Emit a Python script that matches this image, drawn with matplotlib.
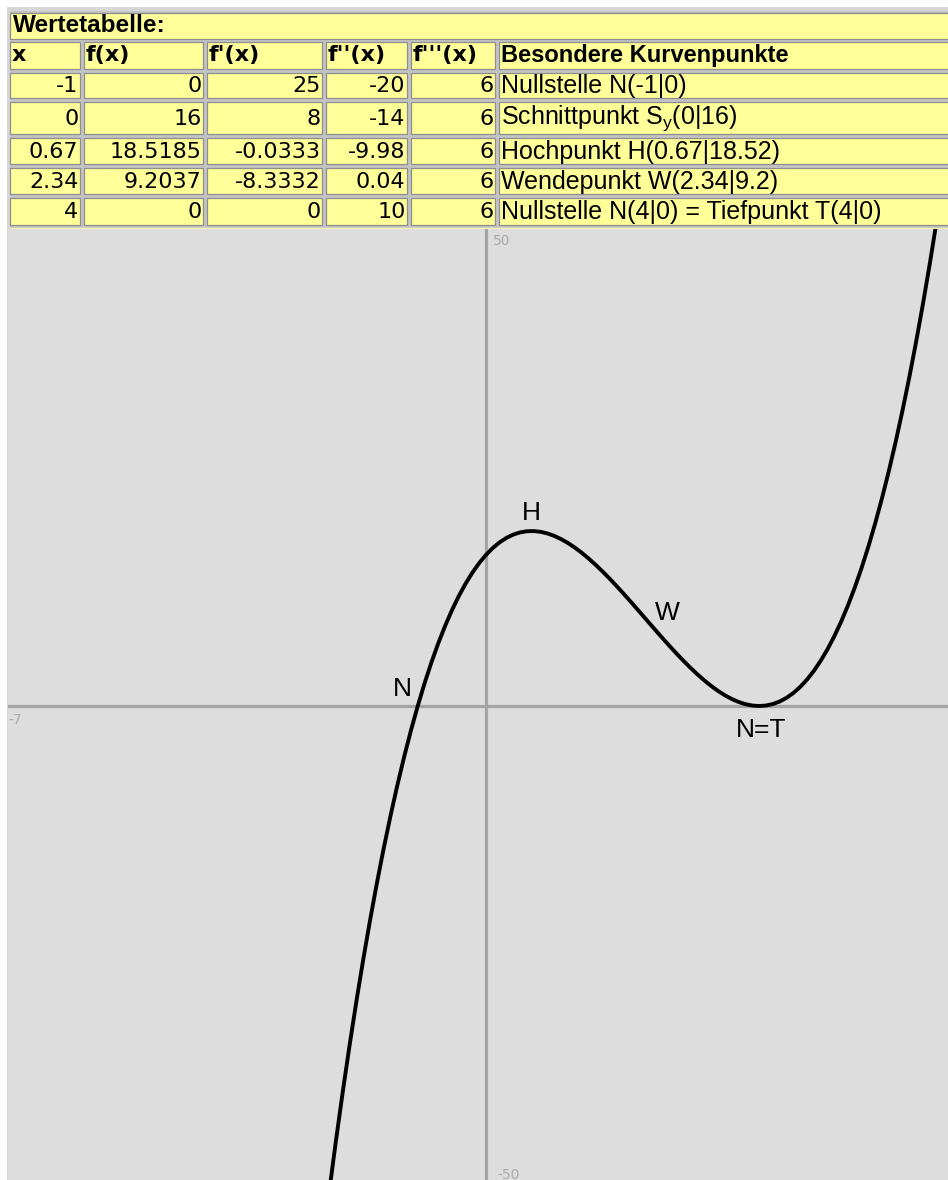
import matplotlib
matplotlib.use("Agg")
import matplotlib.pyplot as plt
from matplotlib.patches import Rectangle

# table contents
title = "Wertetabelle:"
col_headers = ["x", "f(x)", "f'(x)", "f''(x)", "f'''(x)", "Besondere Kurvenpunkte"]
x_vals = ["-1", "0", "0.67", "2.34", "4"]
fx_vals = ["0", "16", "18.5185", "9.2037", "0"]
f1_vals = ["25", "8", "-0.0333", "-8.3332", "0"]
f2_vals = ["-20", "-14", "-9.98", "0.04", "10"]
f3_vals = ["6", "6", "6", "6", "6"]
point_texts = ["Nullstelle N(-1|0)",
               r"Schnittpunkt S$_\mathregular{y}$(0|16)",
               "Hochpunkt H(0.67|18.52)",
               "Wendepunkt W(2.34|9.2)",
               "Nullstelle N(4|0) = Tiefpunkt T(4|0)"]

# curve points
curve_x = [-2.4, -2.3, -2.2, -2.1, -2.0, -1.9, -1.8, -1.7, -1.6, -1.5, -1.4, -1.3,
           -1.2, -1.1, -1.0, -0.9, -0.8, -0.7, -0.6, -0.5, -0.4, -0.3, -0.2, -0.1,
           0.0, 0.1, 0.2, 0.3, 0.4, 0.5, 0.6, 0.7, 0.8, 0.9, 1.0, 1.1,
           1.2, 1.3, 1.4, 1.5, 1.6, 1.7, 1.8, 1.9, 2.0, 2.1, 2.2, 2.3,
           2.4, 2.5, 2.6, 2.7, 2.8, 2.9, 3.0, 3.1, 3.2, 3.3, 3.4, 3.5,
           3.6, 3.7, 3.8, 3.9, 4.0, 4.1, 4.2, 4.3, 4.4, 4.5, 4.6, 4.7,
           4.8, 4.9, 5.0, 5.1, 5.2, 5.3, 5.4, 5.5, 5.6, 5.7, 5.8, 5.9,
           6.0, 6.1, 6.2, 6.3, 6.4, 6.5, 6.6, 6.7, 6.8]
curve_y = [-57.344, -51.597, -46.128, -40.931, -36.0, -31.329, -26.912, -22.743,
           -18.816, -15.125, -11.664, -8.427, -5.408, -2.601, 0.0, 2.401,
           4.608, 6.627, 8.464, 10.125, 11.616, 12.943, 14.112, 15.129,
           16.0, 16.731, 17.328, 17.797, 18.144, 18.375, 18.496, 18.513,
           18.432, 18.259, 18.0, 17.661, 17.248, 16.767, 16.224, 15.625,
           14.976, 14.283, 13.552, 12.789, 12.0, 11.191, 10.368, 9.537,
           8.704, 7.875, 7.056, 6.253, 5.472, 4.719, 4.0, 3.321,
           2.688, 2.107, 1.584, 1.125, 0.736, 0.423, 0.192, 0.049,
           0.0, 0.051, 0.208, 0.477, 0.864, 1.375, 2.016, 2.793,
           3.712, 4.779, 6.0, 7.381, 8.928, 10.647, 12.544, 14.625,
           16.896, 19.363, 22.032, 24.909, 28.0, 31.311, 34.848, 38.617,
           42.624, 46.875, 51.376, 56.133, 61.152]

# point labels on the graph
label_texts = ["N", "H", "W", "N=T"]
label_x = [-1.23, 0.66, 2.65, 4.03]
label_y = [1.8, 20.4, 9.84, -2.54]

W, H = 948, 1180
fig = plt.figure(figsize=(W / 100, H / 100), dpi=100, facecolor="white")

# background + table, drawn in pixel coordinates
bg = fig.add_axes([0, 0, 1, 1], zorder=0)
bg.set_xlim(0, W)
bg.set_ylim(H, 0)
bg.axis("off")
bg.add_patch(Rectangle((7, 7), W - 7, H - 7, facecolor="#d6d6d6", edgecolor="none"))
bg.add_patch(Rectangle((10, 11), W - 10, 218, facecolor="#c4c4c4", edgecolor="none"))

yellow = "#ffff99"
edge = "#8e8e8e"

def cell(x0, x1, y0, y1):
    bg.add_patch(Rectangle((x0, y0), x1 - x0, y1 - y0, facecolor=yellow,
                           edgecolor=edge, lw=0.9))

cell(10, 950, 12.5, 38.5)
bg.text(13, 26, title, family="Liberation Sans", weight="bold", fontsize=17.5,
        va="center", ha="left")

col_x = [(10, 80.5), (84, 203.5), (207, 322.5), (326, 407.5), (411, 495.5), (499, 950)]
head_y = (42, 68.5)
row_y = [(73, 97.5), (101.5, 134), (138, 163.5), (168, 193.5), (198, 225)]

for (x0, x1), name in zip(col_x, col_headers):
    cell(x0, x1, *head_y)
    fam = "Liberation Sans" if name.startswith("B") else "DejaVu Sans"
    bg.text(x0 + 2, sum(head_y) / 2, name, family=fam, weight="bold",
            fontsize=17 if fam == "Liberation Sans" else 16,
            va="center", ha="left")

columns = [x_vals, fx_vals, f1_vals, f2_vals, f3_vals]
for r, (y0, y1) in enumerate(row_y):
    yc = (y0 + y1) / 2 + 1
    for c, (x0, x1) in enumerate(col_x):
        cell(x0, x1, y0, y1)
        if c < 5:
            bg.text(x1 - 2, yc, columns[c][r], family="DejaVu Sans", fontsize=16,
                    va="center", ha="right")
        else:
            bg.text(x0 + 2, yc - (1 if r == 1 else 0), point_texts[r],
                    family="Liberation Sans", fontsize=18, va="center", ha="left")
bg.plot([10, W], [227.5, 227.5], color="#f4f4b0", lw=1)

# graph
top_px, left_px = 229, 8
ax = fig.add_axes([left_px / W, 0, (W - left_px) / W, (H - top_px) / H], zorder=1)
ax.set_facecolor("#dddddd")
for s in ax.spines.values():
    s.set_visible(False)
ax.set_xticks([])
ax.set_yticks([])
ax.set_xlim(-7, 6.765)
ax.set_ylim(-50.16, 50.48)

ax.axhline(0, color="#a4a4a4", lw=2.3, zorder=1)
ax.axvline(0, color="#a4a4a4", lw=2.3, zorder=1)

ax.text(0.1, 50, "50", color="#aaaaaa", fontsize=10, va="top", ha="left")
ax.text(-6.99, -0.75, "-7", color="#aaaaaa", fontsize=10, va="top", ha="left")
ax.text(0.16, -48.9, "-50", color="#aaaaaa", fontsize=10, va="top", ha="left")

ax.plot(curve_x, curve_y, color="black", lw=2.8, solid_capstyle="round",
        solid_joinstyle="round", zorder=3)

for t, lx, ly in zip(label_texts, label_x, label_y):
    ax.text(lx, ly, t, family="Liberation Sans", fontsize=19, ha="center",
            va="center", zorder=4)

fig.savefig("out.png", dpi=100, facecolor="white")
